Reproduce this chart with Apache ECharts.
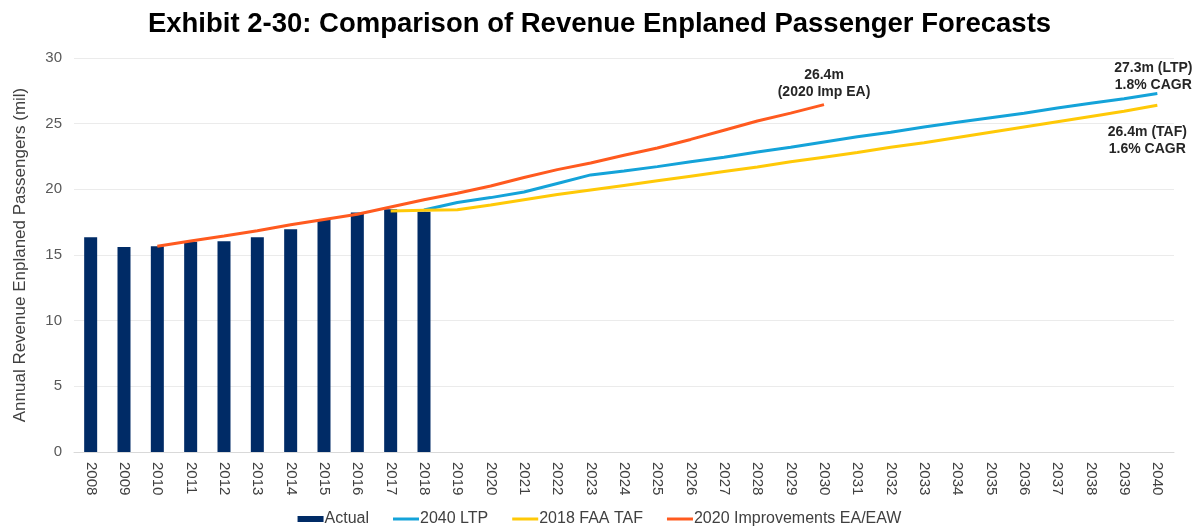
<!DOCTYPE html>
<html lang="en">
<head>
    <meta charset="UTF-8">
    <title>Exhibit 2-30</title>
    <script src="https://cdn.jsdelivr.net/npm/echarts@6/dist/echarts.min.js"></script>
    <style>
        html, body { margin: 0; padding: 0; background: #fff; }
        #chart { width: 1199px; height: 527px; }
    </style>
</head>
<body>
<div id="chart"></div>
<script>
    // years on the x axis
    var years = [];
    for (var y = 2008; y <= 2040; y++) { years.push(String(y)); }

    // actual enplanements 2008-2018 (mil)
    var actual = [16.35, 15.6, 15.67, 16.0, 16.05, 16.35, 16.96, 17.75, 18.23, 18.48, 18.3];

    // 2040 LTP forecast, 2018-2040
    var ltp = [18.43, 19.0, 19.37, 19.8, 20.45, 21.1, 21.4, 21.73, 22.1, 22.45, 22.85, 23.2, 23.6,
               24.0, 24.35, 24.75, 25.1, 25.45, 25.8, 26.2, 26.55, 26.9, 27.3];

    // 2018 FAA TAF, 2017-2040
    var taf = [18.35, 18.4, 18.45, 18.8, 19.2, 19.6, 19.95, 20.3, 20.65, 21.0, 21.35, 21.7, 22.1,
               22.45, 22.8, 23.2, 23.55, 23.95, 24.35, 24.75, 25.15, 25.55, 25.95, 26.4];

    // 2020 Improvements EA/EAW, 2010-2030
    var imp = [15.67, 16.07, 16.45, 16.85, 17.3, 17.7, 18.1, 18.65, 19.2, 19.7, 20.25, 20.9, 21.5,
               22.0, 22.6, 23.15, 23.8, 24.5, 25.2, 25.8, 26.45];

    function pad(arr, startYear) {
        var out = [];
        for (var i = 0; i < years.length; i++) {
            var k = i - (startYear - 2008);
            out.push(k >= 0 && k < arr.length ? arr[k] : '-');
        }
        return out;
    }

    var barData = pad(actual, 2008);
    var ltpData = pad(ltp, 2018);
    var tafData = pad(taf, 2017);
    var impData = pad(imp, 2010);

    var noteStyle = { fontFamily: 'Liberation Sans, Arial', fontWeight: 'bold', fontSize: 14, color: '#262626', lineHeight: 17, align: 'center' };

    // labels at the ends of the forecast lines
    ltpData[32] = { value: ltpData[32], label: Object.assign({ show: true, position: 'top', distance: 4, offset: [-4, 4],
        formatter: '27.3m (LTP)\n1.8% CAGR' }, noteStyle) };
    tafData[32] = { value: tafData[32], label: Object.assign({ show: true, position: 'bottom', distance: 4, offset: [-10, 14],
        formatter: '26.4m (TAF)\n1.6% CAGR' }, noteStyle) };
    impData[22] = { value: impData[22], label: Object.assign({ show: true, position: 'top', distance: 4, offset: [0, 0],
        formatter: '26.4m\n(2020 Imp EA)' }, noteStyle) };

    var lineIcon = 'path://M0,0H26V3H0Z';

    var option = {
        backgroundColor: '#fff',
        animation: false,
        title: {
            text: 'Exhibit 2-30: Comparison of Revenue Enplaned Passenger Forecasts',
            left: 'center',
            top: 5,
            textStyle: { fontFamily: 'Liberation Sans, Arial', fontWeight: 'bold', fontSize: 27.5, color: '#000' }
        },
        legend: {
            top: 506,
            left: 'center',
            itemWidth: 26,
            itemHeight: 6,
            itemGap: 24,
            textStyle: { fontFamily: 'Liberation Sans, Arial', fontSize: 16, color: '#404040', padding: [0, 0, 0, -4] },
            data: [
                { name: 'Actual', icon: 'rect' },
                { name: '2040 LTP', icon: lineIcon },
                { name: '2018 FAA TAF', icon: lineIcon },
                { name: '2020 Improvements EA/EAW', icon: lineIcon }
            ]
        },
        grid: { left: 74, right: 25, top: 58, bottom: 75 },
        xAxis: {
            type: 'category',
            data: years,
            axisTick: { show: false },
            axisLine: { lineStyle: { color: '#D9D9D9' } },
            axisLabel: {
                rotate: -90,
                interval: 0,
                margin: 10,
                fontFamily: 'Liberation Sans, Arial',
                fontSize: 15,
                color: '#404040'
            }
        },
        yAxis: {
            type: 'value',
            min: 0,
            max: 30,
            interval: 5,
            name: 'Annual Revenue Enplaned Passengers (mil)',
            nameLocation: 'middle',
            nameGap: 45,
            nameTextStyle: { fontFamily: 'Liberation Sans, Arial', fontSize: 17, color: '#404040' },
            axisLabel: { margin: 12, fontFamily: 'Liberation Sans, Arial', fontSize: 15, color: '#595959' },
            axisLine: { show: false },
            axisTick: { show: false },
            splitLine: { lineStyle: { color: '#EBEBEB', width: 1 } }
        },
        series: [
            {
                name: 'Actual',
                type: 'bar',
                barWidth: 13,
                data: barData,
                itemStyle: { color: '#002B66' }
            },
            {
                name: '2040 LTP',
                type: 'line',
                data: ltpData,
                symbol: 'circle',
                symbolSize: 0,
                lineStyle: { width: 3, color: '#14A3D9' },
                itemStyle: { color: '#14A3D9' }
            },
            {
                name: '2018 FAA TAF',
                type: 'line',
                data: tafData,
                symbol: 'circle',
                symbolSize: 0,
                lineStyle: { width: 3, color: '#FFC907' },
                itemStyle: { color: '#FFC907' }
            },
            {
                name: '2020 Improvements EA/EAW',
                type: 'line',
                data: impData,
                symbol: 'circle',
                symbolSize: 0,
                lineStyle: { width: 3, color: '#FF5A1F' },
                itemStyle: { color: '#FF5A1F' }
            }
        ]
    };

    var myChart = echarts.init(document.getElementById('chart'));
    myChart.setOption(option);
    window.onresize = function () { myChart.resize(); };
</script>
</body>
</html>
